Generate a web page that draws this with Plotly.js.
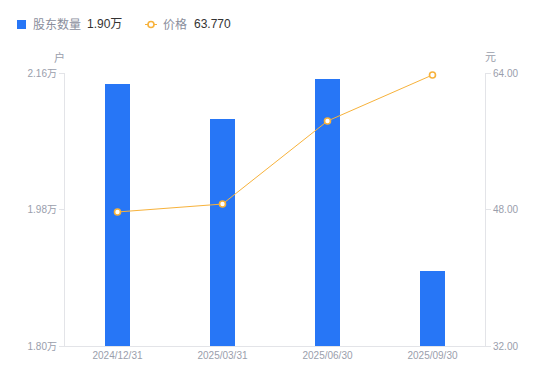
<!DOCTYPE html>
<html>
<head>
<meta charset="utf-8">
<script src="https://cdn.plot.ly/plotly-3.0.1.min.js"></script>
<style>html,body{margin:0;padding:0;background:#fff}#chart{width:550px;height:381px}</style>
</head>
<body>
<div id="chart"></div>
<script>
const categories = ["2024/12/31", "2025/03/31", "2025/06/30", "2025/09/30"];
const holders = [2.145, 2.099, 2.152, 1.899];   // 万户
const prices = [47.71, 48.64, 58.37, 63.77];    // 元
const leftTicks = [1.80, 1.98, 2.16];
const leftTickText = ["1.80万", "1.98万", "2.16万"];
const rightTicks = [32, 48, 64];
const rightTickText = ["32.00", "48.00", "64.00"];

const FONT = '"Liberation Sans", "Noto Sans CJK SC", sans-serif';
const GRAY = '#9a9eac';
const AXIS = '#e3e4e8';
const BLUE = '#2776f6';
const ORANGE = '#f7b23b';

const traces = [
  {type: 'bar', x: categories, y: holders, marker: {color: BLUE}, width: 0.24, yaxis: 'y', hoverinfo: 'none'},
  {type: 'scatter', mode: 'lines+markers', x: categories, y: prices, yaxis: 'y2', cliponaxis: false,
   line: {color: ORANGE, width: 1},
   marker: {size: 6, color: '#ffffff', line: {color: ORANGE, width: 1.6}}, hoverinfo: 'none'}
];

const px = v => (v - 65) / 420;
const py = v => (346 - v) / 273;

const layout = {
  width: 550, height: 381,
  margin: {l: 65, r: 65, t: 73, b: 35},
  paper_bgcolor: '#fff', plot_bgcolor: '#fff',
  showlegend: false,
  font: {family: FONT, size: 10, color: GRAY},
  bargap: 0,
  xaxis: {type: 'category', showgrid: false, zeroline: false, showline: true, linecolor: AXIS, linewidth: 1,
          ticks: '', tickfont: {size: 10, color: GRAY}, fixedrange: true},
  yaxis: {range: [1.80, 2.16], tickvals: leftTicks, ticktext: leftTickText, showgrid: false, zeroline: false,
          showline: true, linecolor: AXIS, linewidth: 1, ticks: 'outside', ticklen: 5, tickcolor: AXIS,
          tickfont: {size: 10, color: GRAY}, fixedrange: true},
  yaxis2: {range: [32, 64], tickvals: rightTicks, ticktext: rightTickText, overlaying: 'y', side: 'right',
           showgrid: false, zeroline: false, showline: true, linecolor: AXIS, linewidth: 1,
           ticks: 'outside', ticklen: 5, tickcolor: AXIS, tickfont: {size: 10, color: GRAY}, fixedrange: true},
  shapes: [
    {type: 'rect', xref: 'paper', yref: 'paper', x0: px(17), x1: px(26), y0: py(29), y1: py(20),
     fillcolor: BLUE, line: {width: 0}},
    {type: 'line', xref: 'paper', yref: 'paper', x0: px(145), x1: px(157), y0: py(24.5), y1: py(24.5),
     line: {color: ORANGE, width: 1}},
    {type: 'circle', xref: 'paper', yref: 'paper', x0: px(148), x1: px(154), y0: py(27.5), y1: py(21.5),
     fillcolor: '#ffffff', line: {color: ORANGE, width: 1.6}}
  ],
  annotations: [
    {xref: 'paper', yref: 'paper', x: px(31), y: py(24.5), xanchor: 'left', yanchor: 'middle', showarrow: false,
     text: '股东数量', font: {size: 12, color: '#8a8e9c'}},
    {xref: 'paper', yref: 'paper', x: px(85), y: py(24.5), xanchor: 'left', yanchor: 'middle', showarrow: false,
     text: '1.90万', font: {size: 12, color: '#333333'}},
    {xref: 'paper', yref: 'paper', x: px(161), y: py(24.5), xanchor: 'left', yanchor: 'middle', showarrow: false,
     text: '价格', font: {size: 12, color: '#8a8e9c'}},
    {xref: 'paper', yref: 'paper', x: px(192), y: py(24.5), xanchor: 'left', yanchor: 'middle', showarrow: false,
     text: '63.770', font: {size: 12, color: '#333333'}},
    {xref: 'paper', yref: 'paper', x: px(59), y: py(57), xanchor: 'center', yanchor: 'middle', showarrow: false,
     text: '户', font: {size: 11, color: GRAY}},
    {xref: 'paper', yref: 'paper', x: px(490), y: py(57), xanchor: 'center', yanchor: 'middle', showarrow: false,
     text: '元', font: {size: 11, color: GRAY}}
  ]
};

Plotly.newPlot('chart', traces, layout, {staticPlot: true, displayModeBar: false});
</script>
</body>
</html>
